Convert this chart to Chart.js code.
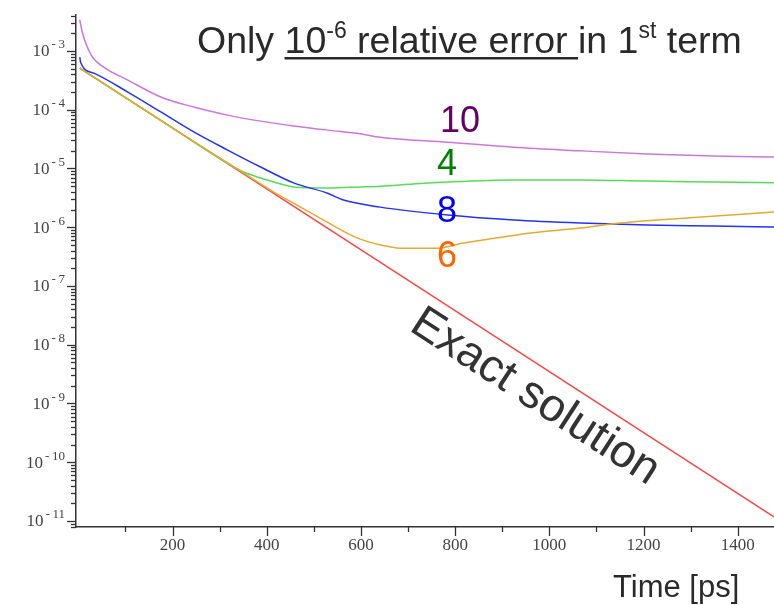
<!DOCTYPE html>
<html>
<head>
<meta charset="utf-8">
<script src="https://cdn.jsdelivr.net/npm/chart.js@4.4.1/dist/chart.umd.min.js"></script>
<style>
    html, body { margin: 0; padding: 0; background: #fff; }
    #wrap { width: 774px; height: 605px; position: relative; }
</style>
</head>
<body>
<div id="wrap"><canvas id="myChart"></canvas></div>
<script>
// time [ps] and relative error
var timeExact = [3, 726, 1477];
var errExact = [5.1e-4, 9.2e-8, 1.17e-11];

var time10 = [3, 9, 27, 54, 105, 175, 245, 317, 387, 457, 529, 599, 641, 784, 924, 1066, 1207, 1348, 1477];
var err10 = [3.4e-3, 2.0e-3, 8.6e-4, 5.3e-4, 3.2e-4, 1.65e-4, 1.11e-4, 8.1e-5, 6.4e-5, 5.3e-5, 4.5e-5, 3.9e-5, 3.4e-5, 2.8e-5, 2.3e-5, 2.0e-5, 1.77e-5, 1.63e-5, 1.57e-5];

var time8 = [3, 5, 33, 105, 175, 245, 317, 387, 457, 529, 563, 641, 784, 924, 1066, 1207, 1348, 1477];
var err8 = [7.9e-4, 6.3e-4, 4.2e-4, 2.0e-4, 9.2e-5, 4.2e-5, 2.06e-5, 1.06e-5, 5.7e-6, 3.8e-6, 2.9e-6, 2.2e-6, 1.62e-6, 1.33e-6, 1.18e-6, 1.09e-6, 1.05e-6, 1.01e-6];

var time4 = [3, 105, 207, 302, 351, 387, 415, 457, 529, 599, 641, 711, 784, 924, 1066, 1207, 1348, 1477];
var err4 = [5.1e-4, 1.52e-4, 4.5e-5, 1.45e-5, 8.7e-6, 6.9e-6, 5.9e-6, 4.85e-6, 4.65e-6, 4.85e-6, 5.0e-6, 5.45e-6, 5.9e-6, 6.4e-6, 6.4e-6, 6.1e-6, 5.9e-6, 5.7e-6];

var time6 = [3, 105, 207, 324, 408, 472, 535, 588, 641, 684, 762, 818, 890, 960, 1066, 1150, 1292, 1477];
var err6 = [5.1e-4, 1.52e-4, 4.5e-5, 1.15e-5, 4.3e-6, 2.2e-6, 1.14e-6, 6.8e-7, 5.0e-7, 4.4e-7, 4.4e-7, 5.4e-7, 6.6e-7, 8.0e-7, 9.7e-7, 1.18e-6, 1.44e-6, 1.82e-6];

var xTickLabels = [200, 400, 600, 800, 1000, 1200, 1400];
var yExponents = [-11, -10, -9, -8, -7, -6, -5, -4, -3];

function pts(t, v) {
    return t.map(function (x, i) { return { x: x, y: v[i] }; });
}

function serie(t, v, color) {
    return {
        data: pts(t, v),
        borderColor: color,
        borderWidth: 1.5,
        pointRadius: 0,
        fill: false,
        cubicInterpolationMode: 'monotone'
    };
}

var axisPlugin = {
    id: 'axisPlugin',
    afterDraw: function (chart) {
        var ctx = chart.ctx;
        var x = chart.scales.x;
        var y = chart.scales.y;
        ctx.save();
        ctx.strokeStyle = '#333';
        ctx.lineWidth = 1.3;

        // y ticks (decades + minor 2..9)
        for (var e = -12; e <= -2; e++) {
            for (var m = 1; m <= 9; m++) {
                var v = m * Math.pow(10, e);
                if (v < y.min || v > y.max) continue;
                var py = Math.round(y.getPixelForValue(v)) + 0.5;
                var len = m === 1 ? 9 : 5;
                ctx.beginPath();
                ctx.moveTo(x.left - len, py);
                ctx.lineTo(x.left, py);
                ctx.stroke();
            }
        }
        // x ticks every 100
        for (var t = 100; t <= 1400; t += 100) {
            var px = Math.round(x.getPixelForValue(t)) + 0.5;
            var l = t % 200 === 0 ? 9 : 5;
            ctx.beginPath();
            ctx.moveTo(px, y.bottom);
            ctx.lineTo(px, y.bottom + l);
            ctx.stroke();
        }

        ctx.fillStyle = '#444';
        // y labels 10^n
        yExponents.forEach(function (n) {
            var py = y.getPixelForValue(Math.pow(10, n));
            ctx.font = '13px "Liberation Serif"';
            ctx.textAlign = 'right';
            ctx.textBaseline = 'middle';
            var ex = '-\u2009' + (-n);
            var exRight = x.left - 11;
            ctx.fillText(ex, exRight, py - 6);
            var w = ctx.measureText(ex).width;
            ctx.font = '17px "Liberation Serif"';
            ctx.fillText('10', exRight - w - 2, py + 1);
        });
        // x labels
        ctx.font = '17px "Liberation Serif"';
        ctx.textAlign = 'center';
        ctx.textBaseline = 'middle';
        xTickLabels.forEach(function (t) {
            ctx.fillText(String(t), x.getPixelForValue(t), y.bottom + 19);
        });
        ctx.restore();
    }
};

var textPlugin = {
    id: 'textPlugin',
    afterDraw: function (chart) {
        var ctx = chart.ctx;
        ctx.save();
        ctx.textBaseline = 'alphabetic';
        ctx.textAlign = 'left';
        ctx.fillStyle = '#2a2a2a';

        // title with superscripts and underline
        var runs = [
            { t: 'Only ', s: 37.5 },
            { t: '10', s: 37.5, u: true },
            { t: '-6', s: 23, up: 15, u: true },
            { t: ' relative error ', s: 37.5, u: true },
            { t: 'in 1', s: 37.5 },
            { t: 'st', s: 23, up: 15 },
            { t: ' term', s: 37.5 }
        ];
        var cx = 197, base = 53, uStart = null, uEnd = null;
        runs.forEach(function (r) {
            ctx.font = r.s + 'px "Liberation Sans"';
            ctx.fillText(r.t, cx, base - (r.up || 0));
            var w = ctx.measureText(r.t).width;
            if (r.u) {
                if (uStart === null) uStart = cx;
                uEnd = cx + w;
            }
            cx += w;
        });
        ctx.fillRect(uStart, base + 4, uEnd - uStart, 2.5);

        // order labels
        ctx.textAlign = 'center';
        ctx.textBaseline = 'middle';
        ctx.font = '36px "Liberation Sans"';
        ctx.fillStyle = '#660066';
        ctx.fillText('10', 460, 122);
        ctx.fillStyle = '#008000';
        ctx.fillText('4', 447, 165);
        ctx.fillStyle = '#0000ff';
        ctx.fillText('8', 447, 212);
        ctx.fillStyle = '#ff6600';
        ctx.fillText('6', 447, 257);

        // Exact solution, along the red line
        ctx.save();
        ctx.translate(535, 397);
        ctx.rotate(33 * Math.PI / 180);
        ctx.fillStyle = '#333';
        ctx.font = '46px "Liberation Sans"';
        ctx.fillText('Exact solution', 0, 0);
        ctx.restore();

        // x axis title
        ctx.textAlign = 'left';
        ctx.textBaseline = 'alphabetic';
        ctx.fillStyle = '#2a2a2a';
        ctx.font = '31px "Liberation Sans"';
        ctx.fillText('Time [ps]', 613, 597);
        ctx.restore();
    }
};

new Chart(document.getElementById('myChart'), {
    type: 'line',
    data: {
        datasets: [
            serie(time6, err6, '#e6aa33'),
            serie(time8, err8, '#2233ff'),
            serie(time4, err4, '#55dd55'),
            serie(time10, err10, '#cc77dd'),
            serie(timeExact, errExact, '#ff4444')
        ]
    },
    options: {
        responsive: true,
        maintainAspectRatio: false,
        animation: false,
        layout: { padding: { left: 68, top: 15, right: 0, bottom: 70 } },
        plugins: {
            legend: { display: false },
            tooltip: { enabled: false }
        },
        scales: {
            x: {
                type: 'linear',
                min: -5,
                max: 1477,
                grid: { display: false },
                ticks: { display: false },
                border: { display: true, color: '#333', width: 1.5 }
            },
            y: {
                type: 'logarithmic',
                min: 7.9e-12,
                max: 4.1e-3,
                grid: { display: false },
                ticks: { display: false },
                border: { display: true, color: '#333', width: 1.5 }
            }
        }
    },
    plugins: [axisPlugin, textPlugin]
});
</script>
</body>
</html>
